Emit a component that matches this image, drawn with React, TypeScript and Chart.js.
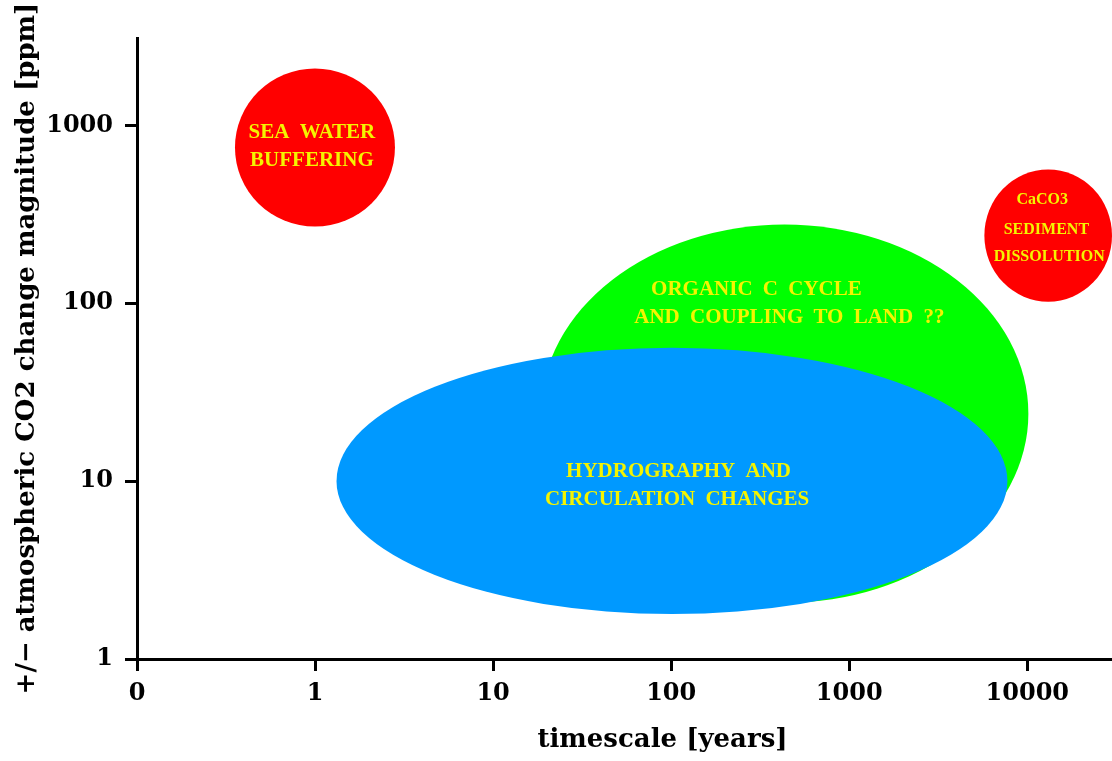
import React, { useEffect, useRef } from "react";
import { Chart, registerables } from "chart.js";

Chart.register(...registerables);

// ---- data ----
const xTickValues = [0.1, 1, 10, 100, 1000, 10000];
const xTickLabels = ["0", "1", "10", "100", "1000", "10000"];
const yTickValues = [1, 10, 100, 1000];
const yTickLabels = ["1", "10", "100", "1000"];

const xTitle = "timescale [years]";
const yTitle = "+/\u2212 atmospheric CO2 change magnitude [ppm]";

// regions: timescale range [years] and magnitude range [ppm]
const regionNames = ["seawater", "caco3", "organic", "hydro"];
const regionXMin = [0.355, 5740, 18.5, 1.32];
const regionXMax = [2.81, 29900, 10140, 7730];
const regionYMin = [270, 102, 2.07, 1.79];
const regionYMax = [2090, 565, 277, 56.2];
const regionColors = ["#ff0000", "#ff0000", "#00ff00", "#0099ff"];

// label lines placed at [timescale, magnitude]
const labelText = [
  "SEA WATER",
  "BUFFERING",
  "CaCO3",
  "SEDIMENT",
  "DISSOLUTION",
  "ORGANIC C CYCLE",
  "AND COUPLING TO LAND ??",
  "HYDROGRAPHY AND",
  "CIRCULATION CHANGES",
];
const labelX = [0.96, 0.96, 12130, 12800, 13280, 301, 461, 110, 108];
const labelY = [912, 635, 383, 259, 183, 119, 83, 11.3, 7.85];
const labelSmall = [false, false, true, true, true, false, false, false, false];

const axisFont = "'DejaVu Serif', serif";
const labelFont = "'Liberation Serif', 'Times New Roman', serif";

const regionsPlugin = {
  id: "regions",
  beforeDatasetsDraw(chart: any) {
    const { ctx, scales } = chart;
    const xs = scales.x;
    const ys = scales.y;
    ctx.save();
    for (let i = 0; i < regionNames.length; i++) {
      const x0 = xs.getPixelForValue(regionXMin[i]);
      const x1 = xs.getPixelForValue(regionXMax[i]);
      const y0 = ys.getPixelForValue(regionYMax[i]);
      const y1 = ys.getPixelForValue(regionYMin[i]);
      ctx.beginPath();
      ctx.ellipse((x0 + x1) / 2, (y0 + y1) / 2, Math.abs(x1 - x0) / 2, Math.abs(y1 - y0) / 2, 0, 0, Math.PI * 2);
      ctx.fillStyle = regionColors[i];
      ctx.fill();
    }
    ctx.fillStyle = "#f4f400";
    ctx.textAlign = "center";
    ctx.textBaseline = "middle";
    for (let i = 0; i < labelText.length; i++) {
      const px = xs.getPixelForValue(labelX[i]);
      const py = ys.getPixelForValue(labelY[i]);
      ctx.font = labelSmall[i] ? `bold 16px ${labelFont}` : `bold 21px ${labelFont}`;
      (ctx as any).wordSpacing = labelSmall[i] ? "0px" : "5px";
      ctx.fillText(labelText[i], px, py);
    }
    (ctx as any).wordSpacing = "0px";
    ctx.restore();
  },
  afterDraw(chart: any) {
    const { ctx, scales } = chart;
    const xs = scales.x;
    ctx.save();
    ctx.fillStyle = "#000";
    ctx.font = `bold 26px ${axisFont}`;
    ctx.textAlign = "center";
    ctx.textBaseline = "middle";
    ctx.fillText(xTitle, (xs.left + xs.right) / 2 + 38, xs.bottom - 21);
    ctx.restore();
  },
};

export default function App() {
  const ref = useRef<HTMLCanvasElement | null>(null);
  useEffect(() => {
    if (!ref.current) return;
    const chart = new Chart(ref.current, {
      type: "scatter",
      data: { datasets: [] },
      plugins: [regionsPlugin],
      options: {
        animation: false,
        responsive: false,
        layout: { padding: { top: 38, right: 0, left: 0, bottom: 0 } },
        plugins: { legend: { display: false }, tooltip: { enabled: false } },
        scales: {
          x: {
            type: "logarithmic",
            min: 0.1,
            max: 29900,
            afterBuildTicks: (s: any) => {
              s.ticks = xTickValues.map((v) => ({ value: v }));
            },
            afterFit: (s: any) => {
              s.height = 102;
            },
            ticks: {
              autoSkip: false,
              maxRotation: 0,
              padding: 8,
              color: "#000",
              font: { family: axisFont, size: 24, weight: "bold" },
              callback: (v: any) => {
                const i = xTickValues.indexOf(Number(v));
                return i >= 0 ? xTickLabels[i] : "";
              },
            },
            grid: { drawOnChartArea: false, drawTicks: true, tickLength: 12, color: "#000", lineWidth: 3 },
            border: { display: true, color: "#000", width: 3 },
            title: { display: false },
          },
          y: {
            type: "logarithmic",
            min: 1,
            max: 3100,
            afterBuildTicks: (s: any) => {
              s.ticks = yTickValues.map((v) => ({ value: v }));
            },
            afterFit: (s: any) => {
              s.width = 137;
            },
            ticks: {
              autoSkip: false,
              padding: 12,
              color: "#000",
              font: { family: axisFont, size: 24, weight: "bold" },
              callback: (v: any) => {
                const i = yTickValues.indexOf(Number(v));
                return i >= 0 ? yTickLabels[i] : "";
              },
            },
            grid: { drawOnChartArea: false, drawTicks: true, tickLength: 12, color: "#000", lineWidth: 3 },
            border: { display: true, color: "#000", width: 3 },
            title: {
              display: true,
              text: yTitle,
              color: "#000",
              font: { family: axisFont, size: 26, weight: "bold" },
              padding: { top: 12, bottom: 0 },
            },
          },
        },
      } as any,
    });
    return () => chart.destroy();
  }, []);
  return (
    <div style={{ position: "fixed", left: 0, top: 0, width: 1112, height: 761, background: "#fff" }}>
      <canvas ref={ref} width={1112} height={761} style={{ display: "block" }} />
    </div>
  );
}
